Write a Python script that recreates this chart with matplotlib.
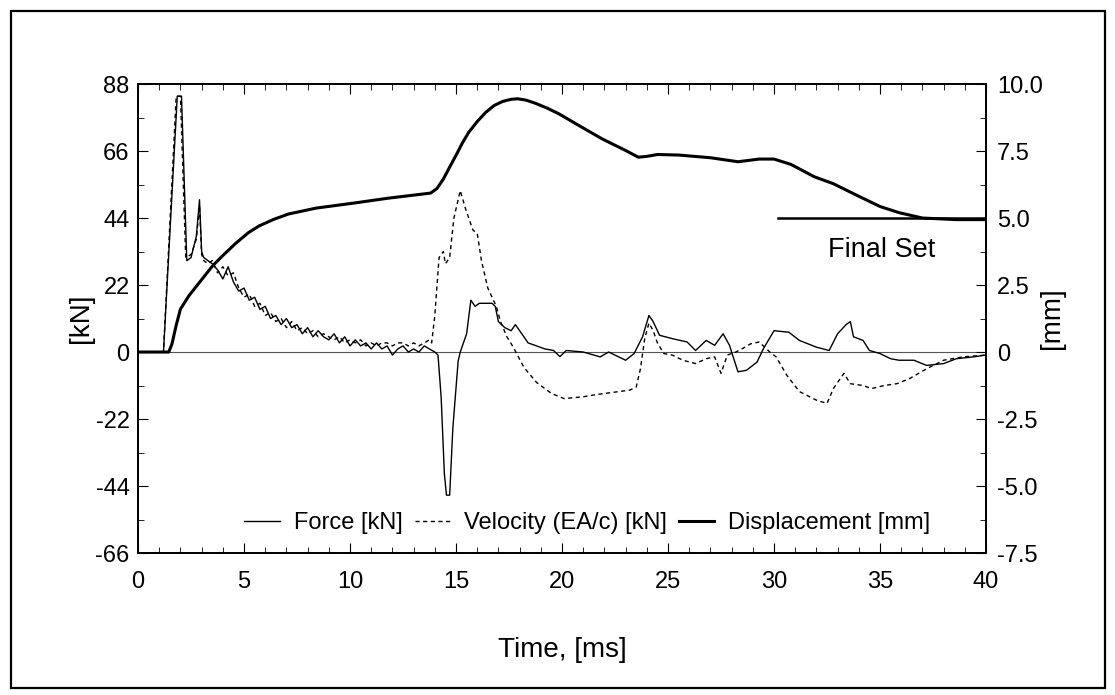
import matplotlib
matplotlib.use("Agg")
import matplotlib.pyplot as plt
from matplotlib.patches import Rectangle
from matplotlib.ticker import MultipleLocator
import numpy as np

plt.rcParams['font.family'] = ['Liberation Sans', 'DejaVu Sans']
plt.rcParams['axes.unicode_minus'] = False

# force [kN]
t_force = [0, 1.2, 1.85, 2.05, 2.3, 2.5, 2.75, 2.9, 3.0, 3.1, 3.3,
           3.5, 3.75, 4.0, 4.25, 4.5, 4.75, 5.0, 5.25, 5.5, 5.75, 6.0, 6.25, 6.5, 6.75,
           7.0, 7.25, 7.5, 7.75, 8.0, 8.25, 8.5, 8.75, 9.0, 9.25, 9.5, 9.75, 10.0, 10.25,
           10.5, 10.75, 11.0, 11.25, 11.5, 11.75, 12.0, 12.25, 12.5, 12.75, 13.0, 13.25,
           13.5, 13.75, 14.0, 14.15, 14.3, 14.45, 14.55, 14.7, 14.85, 15.1, 15.2, 15.35,
           15.5, 15.7, 15.9, 16.1, 16.4, 16.7, 16.85, 17.0, 17.3, 17.6, 17.8, 18.1, 18.4,
           18.8, 19.2, 19.6, 19.9, 20.2, 21.0, 21.8, 22.2, 23.0, 23.4, 23.8, 24.1, 24.3,
           24.6, 25.2, 25.9, 26.3, 26.8, 27.2, 27.6, 27.9, 28.3, 28.7, 29.2, 29.5, 30.0,
           30.7, 31.2, 32.0, 32.6, 33.0, 33.4, 33.6, 33.75, 34.2, 34.5, 35.0, 35.5, 35.9,
           36.6, 37.2, 38.0, 38.6, 39.4, 40.0]
force = [0, 0, 84, 84, 30, 31, 38, 50, 33, 31, 30,
         29, 27, 24, 28, 23, 20, 21, 17, 18, 14, 15, 11, 12, 9,
         11, 8, 9, 6, 8, 5, 7, 5, 4, 6, 3, 5, 2, 4,
         2, 3, 1, 3, 1, 2, -1, 1, 2, 0, 1, 0,
         2, 1, 0, -1, -15, -40, -47, -47, -25, -3, 0, 3,
         6, 17, 15, 16, 16, 16, 15, 10, 8, 7, 9, 6, 3,
         2, 1, 0.5, -1.5, 0.5, 0, -1.6, 0, -2.7, -0.5, 5, 12, 10,
         5.5, 4.4, 3.3, 0.5, 3.8, 2.2, 6, 2.2, -6.5, -6, -3.3, 1.1, 7,
         6.5, 3.8, 1.6, 0.5, 6, 9, 10, 5, 3.8, 0.5, -0.5, -2.2, -2.7,
         -2.7, -4.4, -3.8, -2.2, -1.6, -1.0]

# velocity (EA/c) [kN]
t_vel = [0, 1.2, 1.8, 2.0, 2.25, 2.5, 2.75, 2.9, 3.0, 3.1, 3.3,
         3.5, 3.75, 4.0, 4.25, 4.5, 4.75, 5.0, 5.25, 5.5, 5.75, 6.0, 6.25, 6.5, 6.75,
         7.0, 7.25, 7.5, 7.75, 8.0, 8.25, 8.5, 8.75, 9.0, 9.25, 9.5, 9.75, 10.0, 10.25,
         10.5, 10.75, 11.0, 11.25, 11.5, 11.75, 12.0, 12.25, 12.5, 12.75, 13.0, 13.25,
         13.5, 13.75, 13.85, 14.0, 14.2, 14.4, 14.5, 14.7, 14.9, 15.2, 15.45, 15.8, 16.0,
         16.2, 16.5, 16.9, 17.1, 17.4, 17.7, 18.2, 18.8, 19.5, 20.1, 21.0, 21.6, 23.2,
         23.5, 23.7, 23.9, 24.1, 24.3, 24.5, 24.8, 25.2, 25.7, 26.3, 26.8, 27.2, 27.5,
         27.8, 28.2, 28.5, 28.9, 29.3, 29.8, 30.1, 30.6, 31.2, 32.0, 32.5, 32.8, 33.3,
         33.6, 34.2, 34.6, 35.2, 35.8, 36.4, 37.2, 38.0, 38.9, 40.0]
velocity = [0, 0, 84, 84, 31, 32, 37, 48, 32, 30, 29,
            30, 26, 28, 25, 26, 21, 18, 19, 15, 16, 12, 13, 10, 11,
            8, 10, 7, 8, 6, 7, 5, 6, 5, 4, 5, 3, 4, 3,
            4, 2, 3, 2, 3, 3, 2, 3, 3, 2, 3, 2,
            3, 4, 3, 12, 31, 33, 29, 31, 44, 53, 47, 40, 39,
            30, 21, 15, 10, 5, 1.6, -5, -10, -13.6, -15.3, -14.7, -14, -12.5,
            -11.5, -5.5, 4.4, 9.5, 7, 3, -0.5, -1, -2.7, -3.8, -2.2, -1.6, -7,
            -1, 0, 1.1, 2.7, 3.3, 0, -1.6, -7.6, -13, -15.8, -16.9, -12, -7,
            -10.4, -11, -12, -11, -10.4, -8.7, -5.5, -2.7, -1.6, -1.0]

# displacement [mm]
t_disp = [0, 1.45, 1.6, 1.8, 2.0, 2.4, 3.0, 3.5, 4.0, 4.6, 5.2, 5.7, 6.4, 7.1,
          8.4, 10.2, 11.8, 13.8, 14.1, 14.4, 14.7, 15.0, 15.3, 15.6, 16.0, 16.4,
          16.8, 17.2, 17.6, 17.9, 18.3, 18.75, 19.3, 19.85, 20.8, 21.9, 23.0,
          23.6, 24.0, 24.5, 25.5, 27.0, 28.3, 29.3, 30.0, 30.8, 31.9, 32.8, 33.9,
          35.0, 35.9, 37.0, 38.6, 40.0]
disp = [0, 0, 0.3, 1.0, 1.6, 2.1, 2.7, 3.2, 3.6, 4.05, 4.45, 4.7, 4.95, 5.15,
        5.37, 5.56, 5.74, 5.93, 6.1, 6.45, 6.9, 7.34, 7.8, 8.2, 8.6, 8.94,
        9.2, 9.35, 9.43, 9.45, 9.4, 9.28, 9.1, 8.89, 8.45, 7.95, 7.52,
        7.27, 7.3, 7.37, 7.35, 7.25, 7.1, 7.2, 7.2, 7.0, 6.54, 6.28, 5.85,
        5.43, 5.2, 5.0, 4.94, 4.94]

final_set = 5.0
final_set_start = 30.2

fig = plt.figure(figsize=(11.15, 6.95), dpi=100)
fig.patches.append(Rectangle((0.010, 0.010), 0.981, 0.974, transform=fig.transFigure,
                             fill=False, edgecolor='black', linewidth=1.6))

ax = fig.add_axes([0.1238, 0.2043, 0.7605, 0.6748])
ax2 = ax.twinx()

ax.axhline(0, color='#555555', linewidth=0.8)
lf, = ax.plot(t_force, force, color='black', linewidth=1.0, label='Force [kN]')
lv, = ax.plot(t_vel, velocity, color='black', linewidth=1.0, linestyle=(0, (3, 2.5)),
              label='Velocity (EA/c) [kN]')
ld, = ax2.plot(t_disp, disp, color='black', linewidth=2.2, label='Displacement [mm]')
ax2.plot([final_set_start, 40], [final_set, final_set], color='black', linewidth=1.8)
ax2.text(35.1, 3.8, 'Final Set', fontsize=19.5, ha='center', va='center')

ax.set_xlim(0, 40)
ax.set_ylim(-66, 88)
ax2.set_ylim(-7.5, 10.0)
ax.xaxis.set_major_locator(MultipleLocator(5))
ax.xaxis.set_minor_locator(MultipleLocator(1))
ax.yaxis.set_major_locator(MultipleLocator(22))
ax.yaxis.set_minor_locator(MultipleLocator(11))
ax2.yaxis.set_minor_locator(MultipleLocator(1.25))
ax2.set_yticks([-7.5, -5.0, -2.5, 0, 2.5, 5.0, 7.5, 10.0])
ax2.set_yticklabels(['-7.5', '-5.0', '-2.5', '0', '2.5', '5.0', '7.5', '10.0'])

ax.tick_params(which='both', direction='in', top=True, labelsize=17)
ax.tick_params(axis='x', pad=13)
ax.tick_params(axis='y', pad=6)
ax.tick_params(which='major', length=7)
ax.tick_params(which='minor', length=4)
ax2.tick_params(which='both', direction='in', labelsize=17, pad=8)
ax2.tick_params(which='major', length=7)
ax2.tick_params(which='minor', length=4)

ax.set_xlabel('Time, [ms]', fontsize=20)
ax.xaxis.set_label_coords(0.5, -0.18)
ax.set_ylabel('[kN]', fontsize=20)
ax.yaxis.set_label_coords(-0.052, 0.5)
ax2.set_ylabel('[mm]', fontsize=20)
ax2.yaxis.set_label_coords(1.062, 0.5)

for a in (ax, ax2):
    for s in a.spines.values():
        s.set_linewidth(1.3)

ax.legend(handles=[lf, lv, ld], loc='center', bbox_to_anchor=(0.53, 0.064),
          ncol=3, frameon=False, fontsize=17, handlelength=1.5, columnspacing=0.5,
          handletextpad=0.6)

fig.savefig('out.png', dpi=100)
